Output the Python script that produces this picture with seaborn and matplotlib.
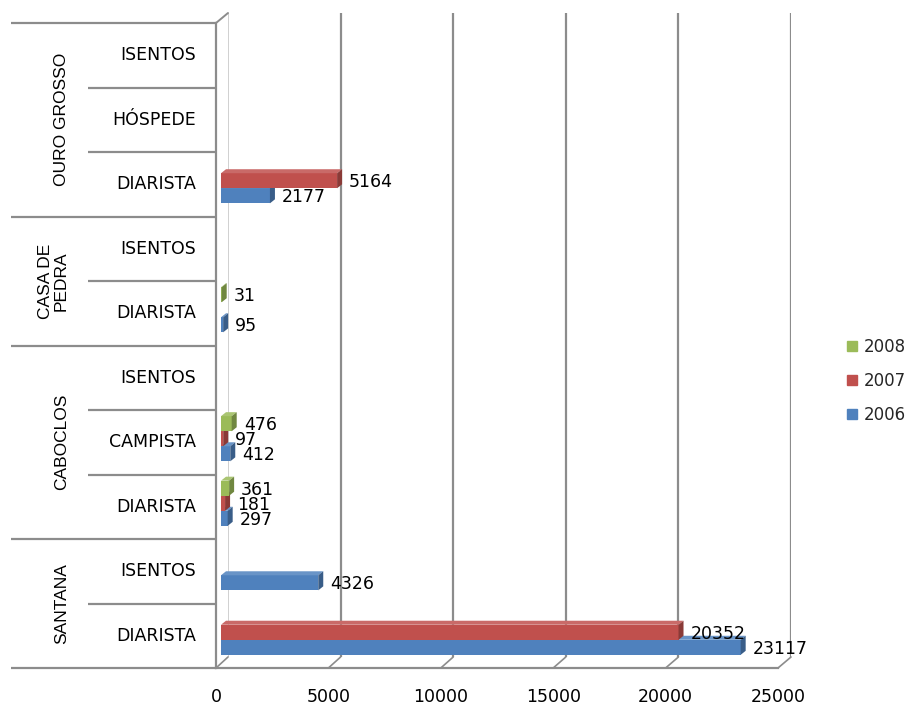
import numpy as np
import pandas as pd
import matplotlib
matplotlib.use("Agg")
import matplotlib.pyplot as plt
import matplotlib.transforms as mtransforms
from matplotlib.patches import Polygon
from matplotlib.lines import Line2D
from matplotlib.colors import to_rgb
import seaborn as sns

# ---- data -------------------------------------------------------------
group_names = ["OURO GROSSO", "CASA DE\nPEDRA", "CABOCLOS", "SANTANA"]
group_sizes = [3, 2, 3, 2]
items = ["ISENTOS", "HÓSPEDE", "DIARISTA",
         "ISENTOS", "DIARISTA",
         "ISENTOS", "CAMPISTA", "DIARISTA",
         "ISENTOS", "DIARISTA"]
years = ["2008", "2007", "2006"]
nan = np.nan
v2006 = [nan, nan, 2177, nan, 95, nan, 412, 297, 4326, 23117]
v2007 = [nan, nan, 5164, nan, nan, nan, 97, 181, nan, 20352]
v2008 = [nan, nan, nan, nan, 31, nan, 476, 361, nan, nan]
x_ticks = [0, 5000, 10000, 15000, 20000, 25000]

colors = {"2008": "#9BBB59", "2007": "#C0504D", "2006": "#4F81BD"}
line_gray = "#8c8c8c"

# ---- long table -----------------------------------------------------
row_keys = [f"{i}" for i in range(len(items))]
records = []
for year, vals in zip(["2006", "2007", "2008"], [v2006, v2007, v2008]):
    for key, v in zip(row_keys, vals):
        if not np.isnan(v):
            records.append({"row": key, "year": year, "value": v})
df = pd.DataFrame(records)

# ---- figure ---------------------------------------------------------
W, H = 909, 706
sns.set_theme(style="white")
plt.rcParams["font.family"] = ["DejaVu Sans"]
fig = plt.figure(figsize=(W / 100, H / 100), dpi=100)
fig.patch.set_facecolor("white")


def frac(left, top, width, height):
    return [left / W, (H - top - height) / H, width / W, height / H]


n = len(items)

# back wall with vertical gridlines
ax_back = fig.add_axes(frac(228, 13, 563, 644), zorder=0)
ax_back.set_facecolor("none")
ax_back.set_xlim(0, 25000)
ax_back.set_ylim(n - 0.5, -0.5)
for v in x_ticks[1:]:
    ax_back.axvline(v, color=line_gray, lw=1.6)
ax_back.axvline(0, color="#c8c8c8", lw=1.2)
ax_back.set_xticks([])
ax_back.set_yticks([])
for s in ax_back.spines.values():
    s.set_visible(False)

# front plane: category axis and value ticks
ax_front = fig.add_axes(frac(216, 23, 562, 645), zorder=1)
ax_front.set_facecolor("none")
ax_front.set_xlim(0, 25000)
ax_front.set_ylim(n - 0.5, -0.5)
ax_front.set_xticks(x_ticks)
ax_front.set_xticklabels([str(t) for t in x_ticks], fontsize=12.5)
ax_front.set_yticks([])
ax_front.tick_params(axis="x", length=5, width=1.5, color=line_gray, pad=9.5, labelcolor="black")
for side in ["top", "right"]:
    ax_front.spines[side].set_visible(False)
for side in ["left", "bottom"]:
    ax_front.spines[side].set_color(line_gray)
    ax_front.spines[side].set_linewidth(1.6)

# bar plane
ax = fig.add_axes(frac(221, 19.5, 562, 645), zorder=2)
ax.set_facecolor("none")
sns.barplot(data=df, x="value", y="row", hue="year", order=row_keys,
            hue_order=years, palette=colors, width=0.70, orient="h",
            saturation=1, legend=False, ax=ax, errorbar=None)
ax.set_xlim(0, 25000)
ax.set_ylim(n - 0.5, -0.5)
ax.set_xlabel("")
ax.set_ylabel("")
ax.set_xticks([])
ax.set_yticks([])
for s in ax.spines.values():
    s.set_visible(False)

fig.canvas.draw()

# 3-D faces for each bar
dx, dy = 5, 4
ident = mtransforms.IdentityTransform()
year_z = {"2006": 2.0, "2007": 2.1, "2008": 2.2}


def shade(c, f):
    r, g, b = to_rgb(c)
    if f >= 1:
        return (r + (1 - r) * (f - 1), g + (1 - g) * (f - 1), b + (1 - b) * (f - 1))
    return (r * f, g * f, b * f)


bars = [p for p in ax.patches if hasattr(p, "get_width")]
for p in bars:
    w = p.get_width()
    if not np.isfinite(w) or w <= 0:
        continue
    fc = to_rgb(p.get_facecolor())
    year = min(colors, key=lambda k: sum((a - b) ** 2 for a, b in zip(to_rgb(colors[k]), fc)))
    z = year_z[year]
    x0, y0 = p.get_x(), p.get_y()
    h = p.get_height()
    (X0, Ya), (X1, Yb) = ax.transData.transform([(x0, y0), (x0 + w, y0 + h)])
    Yt, Ybot = max(Ya, Yb), min(Ya, Yb)
    p.set_zorder(z)
    p.set_edgecolor("none")
    top = Polygon([(X0, Yt), (X1, Yt), (X1 + dx, Yt + dy), (X0 + dx, Yt + dy)],
                  closed=True, transform=ident, facecolor=shade(colors[year], 1.15),
                  edgecolor="none", zorder=z + 0.01)
    side = Polygon([(X1, Ybot), (X1, Yt), (X1 + dx, Yt + dy), (X1 + dx, Ybot + dy)],
                   closed=True, transform=ident, facecolor=shade(colors[year], 0.72),
                   edgecolor="none", zorder=z + 0.01)
    ax.add_patch(top)
    ax.add_patch(side)
    ax.annotate(f"{int(round(w))}", xy=(x0 + w, y0 + h / 2), xytext=(12, -1.5),
                textcoords="offset pixels", ha="left", va="center",
                fontsize=12.5, color="black", zorder=5, annotation_clip=False)

# floor edges and top corner of the back wall
for v in x_ticks:
    fx, fy = ax_front.transData.transform((v, n - 0.5))
    bx, by = ax_back.transData.transform((v, n - 0.5))
    fig.add_artist(Line2D([fx, bx], [fy, by], transform=ident, color=line_gray, lw=1.2))
fx, fy = ax_front.transData.transform((0, -0.5))
bx, by = ax_back.transData.transform((0, -0.5))
fig.add_artist(Line2D([fx, bx], [fy, by], transform=ident, color=line_gray, lw=1.4))

# category table on the left
blend = mtransforms.blended_transform_factory(fig.transFigure, ax_front.transData)
for i, name in enumerate(items):
    ax_front.text(196 / W, i, name, transform=blend, ha="right", va="center",
                  fontsize=12.5, color="black", clip_on=False)
start = 0
for gname, size in zip(group_names, group_sizes):
    top_b = start - 0.5
    ax_front.plot([11 / W, 216 / W], [top_b, top_b], transform=blend,
                  color=line_gray, lw=1.6, clip_on=False, solid_capstyle="butt")
    for k in range(1, size):
        b = start + k - 0.5
        ax_front.plot([88 / W, 216 / W], [b, b], transform=blend,
                      color=line_gray, lw=1.6, clip_on=False, solid_capstyle="butt")
    ax_front.text(69 / W, start + (size - 1) / 2, gname, transform=blend,
                  rotation=90, ha="right", va="center", multialignment="center",
                  fontsize=12.5, family=["Liberation Sans", "DejaVu Sans"],
                  color="black", clip_on=False, linespacing=1.05)
    start += size
ax_front.plot([11 / W, 216 / W], [n - 0.5, n - 0.5], transform=blend,
              color=line_gray, lw=1.6, clip_on=False, solid_capstyle="butt")

# legend
handles = [Line2D([], [], marker="s", linestyle="none", markersize=7.5,
                  markerfacecolor=colors[y], markeredgecolor=colors[y]) for y in years]
fig.legend(handles, years, loc="center left", bbox_to_anchor=(837 / W, (H - 381) / H),
           frameon=False, fontsize=12, handlelength=0.8, handletextpad=0.3,
           labelspacing=0.95, borderpad=0)

fig.savefig("out.png", dpi=100, facecolor="white")
